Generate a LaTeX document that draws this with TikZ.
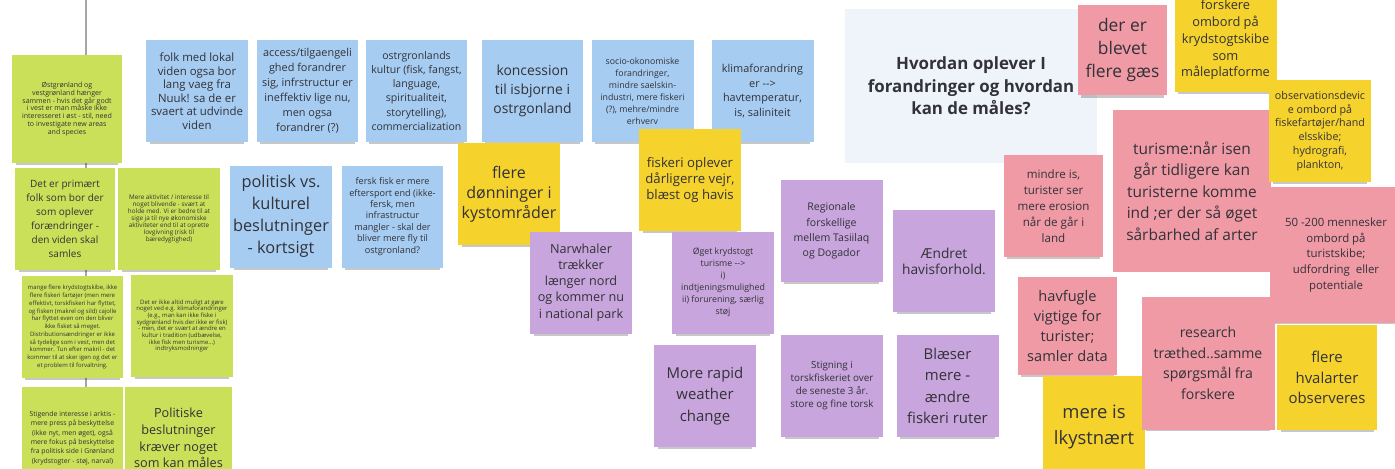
\documentclass[tikz,border=0pt]{standalone}
\usepackage{fontspec}
\setmainfont{Open Sans}
\usepackage{tikz}
\usetikzlibrary{shadows}
\definecolor{myblue}{RGB}{166,204,242}
\definecolor{myyellow}{RGB}{246,210,45}
\definecolor{mypurple}{RGB}{200,165,220}
\definecolor{mypink}{RGB}{240,154,166}
\definecolor{mylime}{RGB}{202,224,88}
\definecolor{mypaleblue}{RGB}{238,244,249}
\definecolor{mytext}{RGB}{50,50,56}
\newcommand{\notefont}[2]{\fontsize{#1}{#2}\selectfont}
\tikzstyle{note}=[rectangle,inner sep=0pt,align=center,text=mytext,minimum width=2.04cm,minimum height=2.04cm,drop shadow={shadow xshift=0pt,shadow yshift=-3.5pt,shadow scale=0.93,opacity=0.22,fill=black}]
\tikzstyle{bluenote}=[note,fill=myblue]
\tikzstyle{yellownote}=[note,fill=myyellow]
\tikzstyle{purplenote}=[note,fill=mypurple]
\tikzstyle{pinknote}=[note,fill=mypink]
\tikzstyle{limenote}=[note,fill=mylime]
\begin{document}
\begin{tikzpicture}[x=0.02cm,y=-0.02cm]
\clip (0,0) rectangle (1395,468);
\fill[white] (0,0) rectangle (1395,468);
\draw[black!35,line width=0.6pt] (86,0) -- (86,392);

% the question in the middle of the board
\node[fill=mypaleblue,minimum width=5.04cm,minimum height=3.08cm,align=center,text=mytext,font={\bfseries\notefont{9.6}{12.8}}] (question) at (971,86) {Hvordan oplever I\\forandringer og hvordan\\kan de måles?};

% blue notes
\node[bluenote,font={\notefont{6.5}{7.7}}] (lokal) at (197,91) {folk med lokal\\viden ogsa bor\\lang vaeg fra\\Nuuk! sa de er\\svaert at udvinde\\viden};
\node[bluenote,font={\notefont{6.2}{8.5}}] (access) at (307.5,91) {access/tilgaengeli\\ghed forandrer\\sig, infrstructur er\\ineffektiv lige nu,\\men ogsa\\forandrer (?)};
\node[bluenote,font={\notefont{6}{8}}] (kultur) at (416.5,91) {ostrgronlands\\kultur (fisk, fangst,\\language,\\spiritualiteit,\\storytelling),\\commercialization};
\node[bluenote,font={\notefont{7.9}{10.8}}] (koncession) at (532.5,91) {koncession\\til isbjorne i\\ostrgonland};
\node[bluenote,font={\notefont{5}{6.8}}] (socio) at (642.5,91) {socio-okonomiske\\forandringer,\\mindre saelskin-\\industri, mere fiskeri\\(?), mehre/mindre\\erhverv};
\node[bluenote,font={\notefont{6.2}{8.5}}] (klima) at (762.5,91) {klimaforandring\\er -{}->\\havtemperatur,\\is, saliniteit};
\node[bluenote,font={\notefont{9.3}{12.6}}] (politisk) at (281,216.5) {politisk vs.\\kulturel\\beslutninger\\- kortsigt};
\node[bluenote,font={\notefont{5.2}{6.5}}] (fersk) at (392.5,216.5) {fersk fisk er mere\\eftersport end (ikke-\\fersk, men\\infrastructur\\mangler - skal der\\bliver mere fly til\\ostgronland?};

% lime notes
\node[limenote,minimum width=2.2cm,minimum height=2.16cm,font={\notefont{4}{4.4}}] (oest) at (67,109) {Østgrønland og\\vestgrønland hænger\\sammen - hvis det går godt\\i vest er man måske ikke\\interesseret i øst - stil, need\\to investigate new areas\\and species};
\node[limenote,minimum width=2cm,font={\notefont{5.7}{7.9}}] (primaert) at (65,219) {Det er primært\\folk som bor der\\som oplever\\forændringer -\\den viden skal\\samles};
\node[limenote,font={\notefont{3.6}{4}}] (aktivitet) at (169,219) {Mere aktivitet / interesse til\\noget blivende - svært at\\holde med. Vi er bedre til at\\sige ja til nye økonomiske\\aktiviteter end til at oprette\\lovgivning (risk til\\bæredygtighed)};
\node[limenote,font={\notefont{3.4}{4.4}}] (fartoejer) at (72.5,327) {mange flere krydstogtskibe, ikke\\flere fiskeri fartøjer (men mere\\effektivt, torskfiskeri har flyttet,\\og fisken (makrel og sild) cajolle\\har flyttet even om den bliver\\ikke fisket så meget.\\Distributionsændringer er ikke\\så tydelige som i vest, men det\\kommer. Tun efter makril - det\\kommer til at sker igen og det er\\et problem til forvaltning.};
\node[limenote,font={\notefont{3.4}{3.8}}] (muligt) at (182,326) {Det er ikke altid muligt at gøre\\noget ved e.g. klimaforandringer\\(e.g., man kan ikke fiske i\\sydgrønland hvis der ikke er fisk)\\- men, det er svært at ændre en\\kultur i tradition (udbævelse,\\ikke fisk men turisme...)\\indtryksmodninger};
\node[limenote,font={\notefont{3.9}{5.3}}] (arktis) at (72.5,438) {Stigende interesse i arktis -\\mere press på beskyttelse\\(ikke nyt, men øget), også\\mere fokus på beskyttelse\\fra politisk side i Grønland\\(krydstogter - støj, narval)};
\node[limenote,minimum width=2.14cm,font={\notefont{7.2}{9.5}}] (maales) at (178.5,438) {Politiske\\beslutninger\\kræver noget\\som kan måles};

% yellow notes
\node[yellownote,font={\notefont{9.1}{11.3}}] (doenninger) at (509,194) {flere\\dønninger i\\kystområder};
\node[yellownote,font={\notefont{7.5}{9.2}}] (vejr) at (690,180) {fiskeri oplever\\dårligerre vejr,\\blæst og havis};

% purple notes
\node[purplenote,font={\notefont{7.2}{9.2}}] (narwhal) at (581,282.5) {Narwhaler\\trækker\\længer nord\\og kommer nu\\i national park};
\node[purplenote,font={\notefont{5}{6.8}}] (krydstogt) at (723,282.5) {Øget krydstogt\\turisme -{}->\\i)\\indtjeningsmulighed\\ii) forurening, særlig\\støj};
\node[purplenote,font={\notefont{8.5}{12.1}}] (weather) at (705,396) {More rapid\\weather\\change};
\node[purplenote,font={\notefont{6}{8.7}}] (regionale) at (831.5,231) {Regionale\\forskellige\\mellem Tasiilaq\\og Dogador};
\node[purplenote,font={\notefont{7.8}{9}}] (havis) at (944,261) {Ændret\\havisforhold.};
\node[purplenote,font={\notefont{5.6}{7.4}}] (torsk) at (832,386) {Stigning i\\torskfiskeriet over\\de seneste 3 år.\\store og fine torsk};
\node[purplenote,font={\notefont{8.5}{12.1}}] (blaeser) at (947.5,386) {Blæser\\mere -\\ændre\\fiskeri ruter};

% pink and yellow notes on the right
\node[pinknote,minimum width=1.78cm,minimum height=1.8cm,font={\notefont{9.9}{13.2}}] (gaes) at (1122.5,50) {der er\\blevet\\flere gæs};
\node[yellownote,minimum height=2.08cm,font={\notefont{7.3}{9.5}}] (forskere) at (1225.5,40) {forskere\\ombord på\\krydstogtskibe\\som\\måleplatforme};
\node[pinknote,minimum width=3.16cm,minimum height=3.24cm,font={\notefont{8.8}{12.2}}] (turisme) at (1192,191) {turisme:når isen\\går tidligere kan\\turisterne komme\\ind ;er der så øget\\sårbarhed af arter};
\node[yellownote,font={\notefont{6.1}{7.8}}] (device) at (1320,131) {observationsdevic\\e ombord på\\fiskefartøjer/hand\\elsskibe;\\hydrografi,\\plankton,};
\node[pinknote,minimum width=1.98cm,font={\notefont{6.6}{9.1}}] (erosion) at (1053.5,206) {mindre is,\\turister ser\\mere erosion\\når de går i\\land};
\node[pinknote,minimum width=2.64cm,minimum height=2.72cm,font={\notefont{6.5}{8.9}}] (mennesker) at (1336,255) {50 -200 mennesker\\ombord på\\turistskibe;\\udfordring\ \ eller\\potentiale};
\node[pinknote,minimum width=1.98cm,minimum height=1.96cm,font={\notefont{8.3}{11.5}}] (havfugle) at (1067.5,326) {havfugle\\vigtige for\\turister;\\samler data};
\node[yellownote,font={\notefont{10.5}{15.1}}] (kystnaert) at (1094,427) {mere is\\lkystnært};
\node[pinknote,minimum width=2.66cm,minimum height=2.66cm,font={\notefont{8}{11.7}}] (research) at (1208,363) {research\\træthed..samme\\spørgsmål fra\\forskere};
\node[yellownote,minimum width=2cm,minimum height=2.1cm,font={\notefont{8.5}{11.8}}] (hvalarter) at (1327,377.5) {flere\\hvalarter\\observeres};
\end{tikzpicture}
\end{document}
